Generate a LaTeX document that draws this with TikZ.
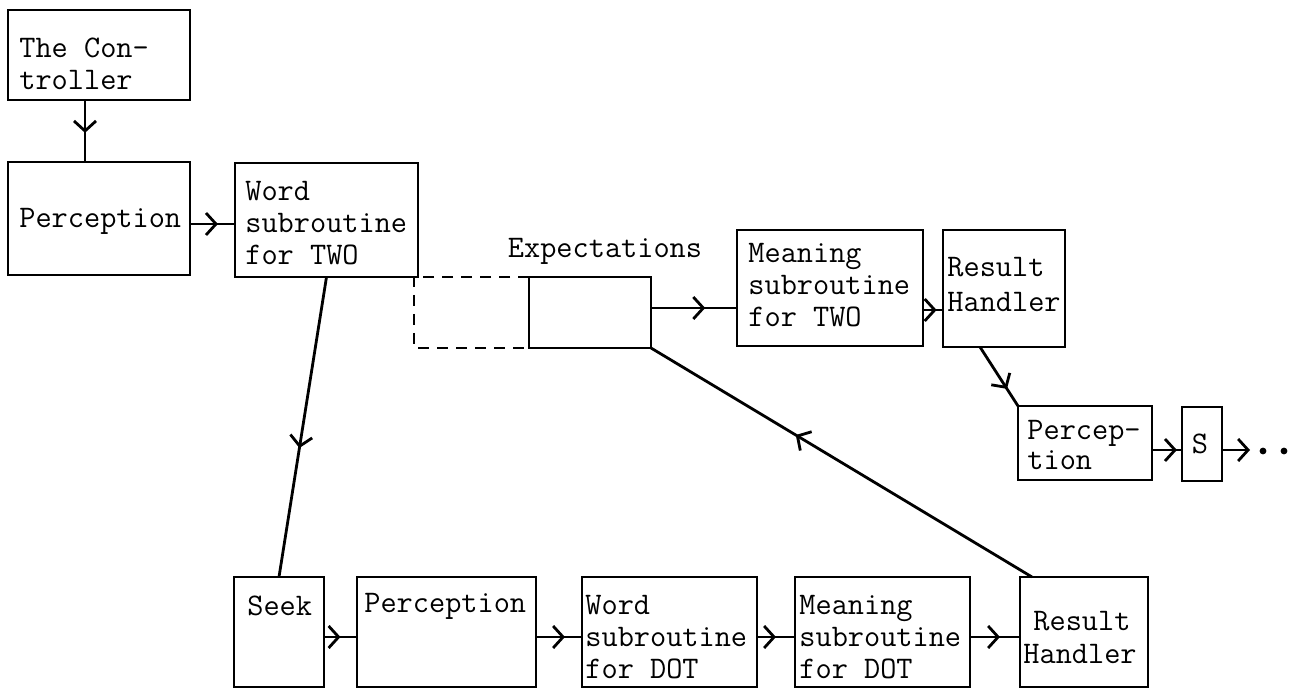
\documentclass[tikz,border=0pt]{standalone}
\usepackage{fontspec}
\usetikzlibrary{decorations.markings,arrows.meta}
\tikzset{
  box/.style={draw, line width=1.4pt, inner sep=0pt, outer sep=0pt},
  lbl/.style={inner sep=0pt, align=left, anchor=west, font=\ttfamily\fontsize{15.7}{#1}\selectfont},
  lbl/.default=16,
  conn/.style={line width=1.4pt},
  tipat/.style={postaction={decorate}, decoration={markings, mark=at position #1 with {\arrow{Straight Barb[length=5pt,width=11pt]}}}},
}
\begin{document}
\begin{tikzpicture}[x=0.5pt,y=-0.5pt]
\useasboundingbox (0,0) rectangle (1300,689);
% boxes
\node[box, minimum width=91pt, minimum height=45pt] (ctrl) at (99,55) {};
\node[box, minimum width=91pt, minimum height=56.5pt] (perc1) at (99,218.5) {};
\node[box, minimum width=91.5pt, minimum height=57pt] (word2) at (326.5,220) {};
\node[box, minimum width=61pt, minimum height=35.5pt] (expect) at (590,312.5) {};
\node[box, minimum width=93pt, minimum height=58pt] (mean2) at (830,288) {};
\node[box, minimum width=61pt, minimum height=58.5pt] (res1) at (1004,288.5) {};
\node[box, minimum width=67pt, minimum height=37pt] (perc2) at (1085,443) {};
\node[box, minimum width=20pt, minimum height=37pt] (S) at (1202,444) {};
\node[box, minimum width=45pt, minimum height=55pt] (seek) at (279,632) {};
\node[box, minimum width=89.5pt, minimum height=55pt] (perc3) at (446.5,632) {};
\node[box, minimum width=87.5pt, minimum height=55pt] (word3) at (669.5,632) {};
\node[box, minimum width=87.5pt, minimum height=55pt] (mean3) at (882.5,632) {};
\node[box, minimum width=64pt, minimum height=55pt] (res3) at (1084,632) {};
% texts
\node[lbl] (tctrl) at (19,64) {The Con-\\troller};
\node[lbl] (tperc1) at (19,221) {Perception};
\node[lbl] (tword2) at (245,223) {Word\\subroutine\\for TWO};
\node[lbl, anchor=center] (texp) at (605,251) {Expectations};
\node[lbl] (tmean2) at (748,285) {Meaning\\subroutine\\for TWO};
\node[lbl=17.5] (tres1) at (947,285) {Result\\Handler};
\node[lbl=15] (tperc2) at (1027,445) {Percep-\\tion};
\node[lbl, anchor=center] (tS) at (1200,444) {S};
\node[lbl] (tseek) at (247,606) {Seek};
\node[lbl] (tperc3) at (364,606) {Perception};
\node[lbl] (tword3) at (585,637) {Word\\subroutine\\for DOT};
\node[lbl] (tmean3) at (799,637) {Meaning\\subroutine\\for DOT};
\node[lbl=16.5] (tres3) at (1023,637) {\hspace*{5pt}Result\\Handler};
% dashed extension of Expectations
\coordinate (dtl) at (414,277);
\coordinate (dbl) at (414,348);
\draw[conn, dash pattern=on 5.5pt off 4pt] (expect.north west) -- (dtl) -- (dbl) -- (expect.south west);
% connectors
\draw[conn, tipat=0.53] ([xshift=-7pt]ctrl.south) -- ([xshift=-7pt]perc1.north);
\draw[conn, tipat=0.62] (perc1.east |- 0,224) -- (word2.west |- 0,224);
\draw[conn, tipat=0.57] (word2.south) -- (seek.north);
\draw[conn, tipat=0.63] (expect.east |- 0,308) -- (mean2.west |- 0,308);
\draw[conn, tipat=0.68] (mean2.east |- 0,310) -- (res1.west |- 0,310);
\draw[conn, tipat=0.71] (res1.south -| 980,0) -- (perc2.north west);
\draw[conn, tipat=0.83] (perc2.east |- 0,450) -- (S.west |- 0,450);
\coordinate (send) at (1250,450);
\draw[conn, -{Straight Barb[length=5pt,width=11pt]}] (S.east |- 0,450) -- (send);
\node[circle, fill, inner sep=0pt, minimum size=3.4pt] (dot1) at (1263,451) {};
\node[circle, fill, inner sep=0pt, minimum size=3.4pt] (dot2) at (1284,451) {};
\draw[conn, tipat=0.62] ([xshift=6pt]res3.north west) -- (expect.south east);
\draw[conn, tipat=0.5] (seek.east |- 0,637) -- (perc3.west |- 0,637);
\draw[conn, tipat=0.63] (perc3.east |- 0,637) -- (word3.west |- 0,637);
\draw[conn, tipat=0.5] (word3.east |- 0,637) -- (mean3.west |- 0,637);
\draw[conn, tipat=0.6] (mean3.east |- 0,637) -- (res3.west |- 0,637);
\end{tikzpicture}
\end{document}
